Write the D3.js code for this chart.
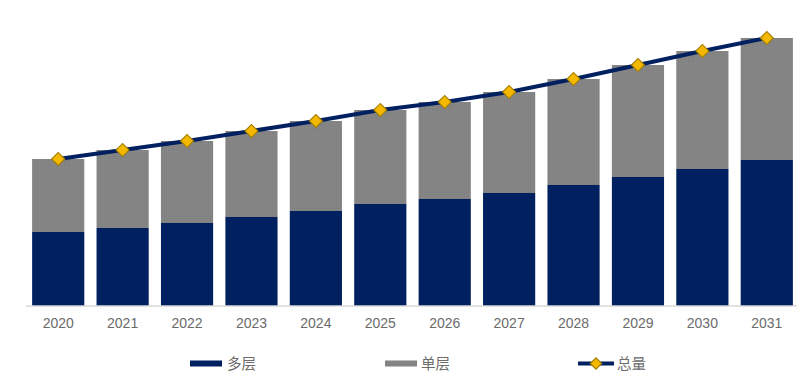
<!DOCTYPE html>
<html>
<head>
<meta charset="utf-8">
<script src="https://cdn.jsdelivr.net/npm/d3@7/dist/d3.min.js"></script>
<style>
  body { margin: 0; background: #fff; }
  svg { display: block; }
</style>
</head>
<body>
<div id="chart"></div>
<script>
let width = 811;
let height = 390;

let years = ['2020', '2021', '2022', '2023', '2024', '2025', '2026', '2027', '2028', '2029', '2030', '2031'];
let multiLayer = [7.4, 7.8, 8.3, 8.9, 9.5, 10.2, 10.7, 11.3, 12.1, 12.9, 13.7, 14.6];
let singleLayer = [7.3, 7.8, 8.2, 8.6, 9.0, 9.4, 9.7, 10.1, 10.6, 11.2, 11.8, 12.2];
let legendNames = ['多层', '单层', '总量'];

let rows = years.map(function(y, i) {
  return { year: y, multi: multiLayer[i], single: singleLayer[i], total: multiLayer[i] + singleLayer[i] };
});

let svg = d3.select('#chart')
  .append('svg')
  .attr('width', width)
  .attr('height', height);

// faint texture on the grey bars
let defs = svg.append('defs');
let pat = defs.append('pattern')
  .attr('id', 'greyTex')
  .attr('width', 2)
  .attr('height', 2)
  .attr('patternUnits', 'userSpaceOnUse');
pat.append('rect').attr('width', 2).attr('height', 2).attr('fill', '#848484');
pat.append('rect').attr('width', 1).attr('height', 1).attr('fill', '#7e7e7e');
pat.append('rect').attr('x', 1).attr('y', 1).attr('width', 1).attr('height', 1).attr('fill', '#888888');

let x = d3.scaleBand()
  .domain(years)
  .range([26, 799])
  .paddingInner(0.19)
  .paddingOuter(0.095);

let y = d3.scaleLinear()
  .domain([0, 30])
  .range([306, 6]);

let navy = '#002060';
let textGrey = '#6b6b6b';

// multi-layer bars
svg.selectAll('.bar-multi')
  .data(rows)
  .enter()
  .append('rect')
  .attr('class', 'bar-multi')
  .attr('x', function(d) { return x(d.year); })
  .attr('width', x.bandwidth())
  .attr('y', function(d) { return y(d.multi); })
  .attr('height', function(d) { return y(0) - y(d.multi); })
  .attr('fill', navy);

// single-layer bars
svg.selectAll('.bar-single')
  .data(rows)
  .enter()
  .append('rect')
  .attr('class', 'bar-single')
  .attr('x', function(d) { return x(d.year); })
  .attr('width', x.bandwidth())
  .attr('y', function(d) { return y(d.total); })
  .attr('height', function(d) { return y(d.multi) - y(d.total); })
  .attr('fill', 'url(#greyTex)');

// x axis
let xAxis = svg.append('g')
  .attr('transform', 'translate(0,' + y(0) + ')')
  .call(d3.axisBottom(x).tickSize(0).tickPadding(12));
xAxis.select('.domain')
  .attr('d', 'M26,0H797')
  .attr('stroke', '#d9d9d9')
  .attr('stroke-width', 1.5);
xAxis.selectAll('text')
  .style('font-family', '"Liberation Sans", Arial, sans-serif')
  .style('font-size', '14px')
  .attr('fill', textGrey);

// total line
let line = d3.line()
  .x(function(d) { return x(d.year) + x.bandwidth() / 2; })
  .y(function(d) { return y(d.total); });

svg.append('path')
  .datum(rows)
  .attr('d', line)
  .attr('fill', 'none')
  .attr('stroke', navy)
  .attr('stroke-width', 4);

let diamond = d3.symbol().type(d3.symbolSquare).size(84);

svg.selectAll('.marker')
  .data(rows)
  .enter()
  .append('path')
  .attr('class', 'marker')
  .attr('d', diamond)
  .attr('transform', function(d) {
    return 'translate(' + (x(d.year) + x.bandwidth() / 2) + ',' + y(d.total) + ') rotate(45)';
  })
  .attr('fill', '#f5b800')
  .attr('stroke', '#a37f00')
  .attr('stroke-width', 1.2);

// legend
let legend = svg.append('g').attr('class', 'legend');
let legendY = 363.5;
let legendX = [190, 385, 578];

legend.append('rect')
  .attr('x', legendX[0]).attr('y', legendY - 3)
  .attr('width', 32).attr('height', 6)
  .attr('fill', navy);

legend.append('rect')
  .attr('x', legendX[1]).attr('y', legendY - 3)
  .attr('width', 32).attr('height', 6)
  .attr('fill', 'url(#greyTex)');

legend.append('line')
  .attr('x1', legendX[2]).attr('x2', legendX[2] + 36)
  .attr('y1', legendY).attr('y2', legendY)
  .attr('stroke', navy)
  .attr('stroke-width', 4);
legend.append('path')
  .attr('d', d3.symbol().type(d3.symbolSquare).size(64))
  .attr('transform', 'translate(' + (legendX[2] + 18) + ',' + legendY + ') rotate(45)')
  .attr('fill', '#f5b800')
  .attr('stroke', '#a37f00')
  .attr('stroke-width', 1.2);

let textX = [227, 421, 617];
legendNames.forEach(function(name, i) {
  legend.append('text')
    .attr('x', textX[i])
    .attr('y', legendY)
    .attr('dy', '0.36em')
    .text(name)
    .style('font-family', '"Noto Sans CJK SC", sans-serif')
    .style('font-size', '14.5px')
    .attr('fill', textGrey);
});
</script>
</body>
</html>
